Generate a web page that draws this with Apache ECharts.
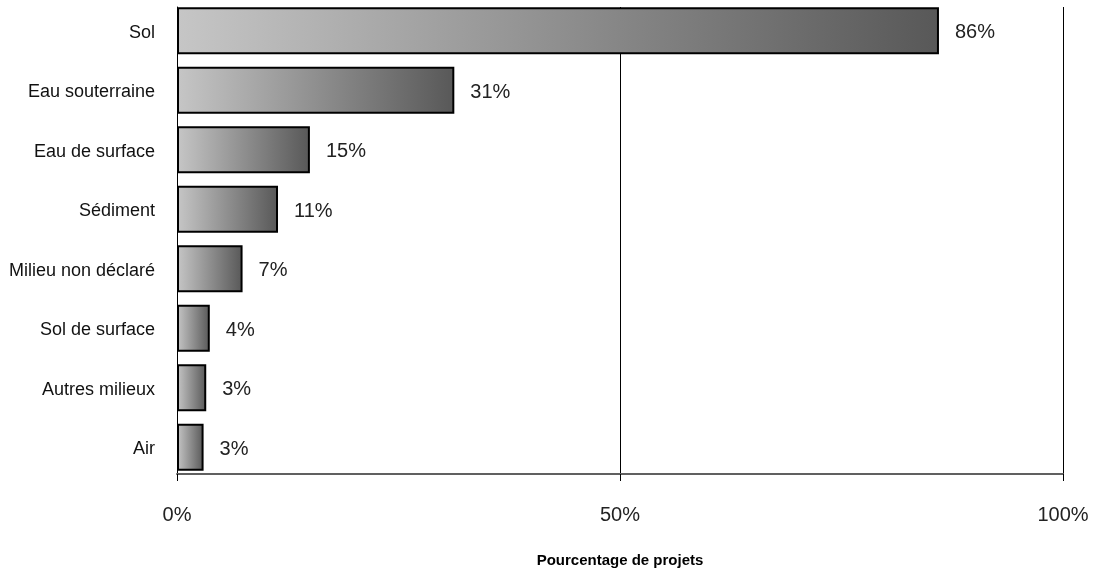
<!DOCTYPE html>
<html><head><meta charset="utf-8">
<script src="https://cdn.jsdelivr.net/npm/echarts@6/dist/echarts.min.js"></script>
<style>html,body{margin:0;padding:0;background:#fff}#c{width:1093px;height:573px}</style>
</head><body><div id="c"></div>
<script>
const categories = ["Sol","Eau souterraine","Eau de surface","Sédiment","Milieu non déclaré","Sol de surface","Autres milieux","Air"];
const values = [86, 31.3, 15, 11.4, 7.4, 3.7, 3.3, 3];
const labels = ["86%","31%","15%","11%","7%","4%","3%","3%"];
const xTicks = [0, 50, 100];

const chart = echarts.init(document.getElementById('c'));
const grad = new echarts.graphic.LinearGradient(0,0,1,0,[{offset:0,color:'#c6c6c6'},{offset:1,color:'#585858'}]);
const font = 'Liberation Sans';
chart.setOption({
  animation:false,
  grid:[
    {left:177,right:30,top:7,bottom:96,containLabel:false},
    {left:177,right:30,top:1,bottom:96,containLabel:false}
  ],
  xAxis:[
    {gridIndex:0,type:'value',min:xTicks[0],max:xTicks[xTicks.length-1],interval:50,
      name:'Pourcentage de projets',nameLocation:'middle',nameGap:79,
      nameTextStyle:{fontFamily:font,fontSize:15,fontWeight:'bold',color:'#000'},
      axisLine:{show:true,lineStyle:{color:'#606060',width:2}},
      axisTick:{show:true,length:7,lineStyle:{color:'#000'}},
      axisLabel:{margin:31,fontFamily:font,fontSize:20,color:'#222',formatter:v=>v+'%'},
      splitLine:{show:true,lineStyle:{color:'#000',width:1}}
    },
    {gridIndex:1,type:'value',min:xTicks[0],max:xTicks[xTicks.length-1],interval:50,show:false}
  ],
  yAxis:[
    {gridIndex:0,type:'category',data:categories,inverse:true,
      axisLine:{show:true,lineStyle:{color:'#000',width:1}},
      axisTick:{show:false},axisLabel:{show:false}},
    {gridIndex:1,type:'category',data:categories,inverse:true,
      axisLine:{show:false},axisTick:{show:false},
      axisLabel:{margin:22,fontFamily:font,fontSize:18,color:'#111',
        rich:{},lineHeight:22,padding:[4,0,0,0]}}
  ],
  series:[{type:'bar',xAxisIndex:1,yAxisIndex:1,data:values,barWidth:'79%',
    itemStyle:{color:grad,borderColor:'#000',borderWidth:2},
    label:{show:true,position:'right',distance:16,offset:[0,2],fontFamily:font,fontSize:20,color:'#222',
      formatter:p=>labels[p.dataIndex]}
  }]
});
</script></body></html>
